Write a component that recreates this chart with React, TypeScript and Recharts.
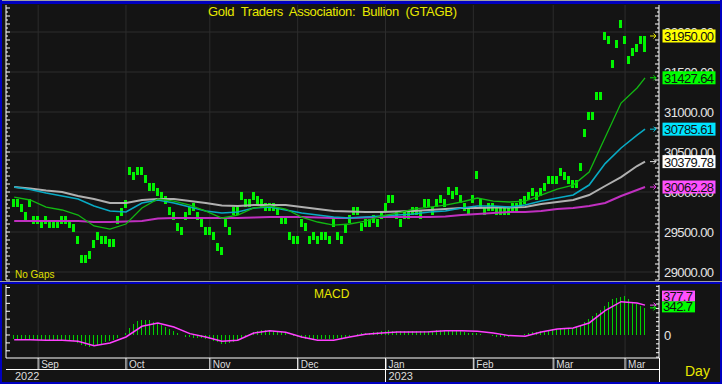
import React from "react";
import { ComposedChart, Bar, Line, XAxis, YAxis, CartesianGrid } from "recharts";

// daily bullion bars (HKD / tael)
const lows = [
  29810, 29810, 29750, 29650, 29810, 29600, 29600, 29550, 29600, 29550,
  29550, 29550, 29600, 29600, 29550, 29500, 29350, 29110, 29110, 29160,
  29300, 29400, 29350, 29350, 29310, 29310, 29600, 29700, 29800, 30210,
  30150, 30210, 30210, 30110, 30010, 30010, 29950, 29900, 29850, 29710,
  29650, 29510, 29460, 29650, 29710, 29760, 29650, 29560, 29460, 29460,
  29400, 29260, 29210, 29560, 29460, 29710, 29710, 29900, 29810, 29810,
  29900, 29850, 29810, 29760, 29760, 29760, 29710, 29600, 29600, 29400,
  29350, 29350, 29560, 29510, 29350, 29400, 29350, 29400, 29400, 29350,
  29560, 29400, 29350, 29490, 29610, 29710, 29710, 29510, 29560, 29560,
  29610, 29560, 29660, 29760, 29860, 29860, 29660, 29560, 29660, 29660,
  29710, 29710, 29660, 29810, 29810, 29710, 29810, 29860, 29810, 29960,
  29910, 29960, 29860, 29760, 29710, 29860, 30160, 29810, 29710, 29760,
  29760, 29710, 29710, 29710, 29710, 29760, 29760, 29810, 29850, 29900,
  29950, 29900, 29950, 30010, 30100, 30100, 30100, 30200, 30150, 30100,
  30050, 30050, 30260, 30690, 30900, 30900, 31150, 31150, 31900, 31850,
  31550, 31800, 32050, 31850, 31600, 31700, 31750, 31850, 31750,
];
const highs = [
  29910, 29910, 29850, 29750, 29910, 29700, 29700, 29650, 29700, 29650,
  29650, 29650, 29700, 29700, 29650, 29600, 29450, 29210, 29210, 29260,
  29400, 29500, 29450, 29450, 29410, 29410, 29700, 29800, 29900, 30310,
  30250, 30310, 30310, 30210, 30110, 30110, 30050, 30000, 29950, 29810,
  29750, 29610, 29560, 29750, 29810, 29860, 29750, 29660, 29560, 29560,
  29500, 29360, 29310, 29660, 29560, 29810, 29810, 30000, 29910, 29910,
  30000, 29950, 29910, 29860, 29860, 29860, 29810, 29700, 29700, 29500,
  29450, 29450, 29660, 29610, 29450, 29500, 29450, 29500, 29500, 29450,
  29660, 29500, 29450, 29590, 29710, 29810, 29810, 29610, 29660, 29660,
  29710, 29660, 29760, 29860, 29960, 29960, 29760, 29660, 29760, 29760,
  29810, 29810, 29760, 29910, 29910, 29810, 29910, 29960, 29910, 30060,
  30010, 30060, 29960, 29860, 29810, 29960, 30260, 29910, 29810, 29860,
  29860, 29810, 29810, 29810, 29810, 29860, 29860, 29910, 29950, 30000,
  30050, 30000, 30050, 30110, 30200, 30200, 30200, 30300, 30250, 30200,
  30150, 30150, 30360, 30790, 31000, 31000, 31250, 31250, 32000, 31950,
  31650, 31900, 32150, 31950, 31700, 31800, 31850, 31950, 31950,
];

// moving averages, sampled every 4th bar
const maIdx = [
  0, 4, 8, 12, 16, 20, 24, 28, 32, 36, 40, 44, 48, 52, 56, 60, 64, 68, 72, 76,
  80, 84, 88, 92, 96, 100, 104, 108, 112, 116, 120, 124, 128, 132, 136, 140,
  144, 148, 152, 156, 158,
];
const maGreen = [
  29937, 29900, 29812, 29775, 29712, 29575, 29537, 29600, 29800, 29912,
  29887, 29837, 29762, 29675, 29712, 29800, 29825, 29787, 29687, 29625,
  29587, 29600, 29637, 29700, 29737, 29787, 29812, 29837, 29875, 29925,
  29887, 29875, 29887, 29962, 30037, 30087, 30250, 30680, 31112, 31300, 31427.64,
];
const maCyan = [
  30062, 30031, 29987, 29950, 29912, 29825, 29762, 29750, 29862, 29900,
  29862, 29812, 29762, 29737, 29750, 29800, 29812, 29775, 29737, 29712,
  29687, 29675, 29687, 29700, 29712, 29725, 29750, 29762, 29800, 29825,
  29825, 29812, 29837, 29887, 29925, 29962, 30087, 30355, 30550, 30712, 30785.61,
];
const maGray = [
  30062, 30044, 30019, 30000, 29950, 29912, 29862, 29862, 29900, 29912,
  29912, 29887, 29862, 29831, 29825, 29837, 29837, 29837, 29812, 29787,
  29762, 29756, 29750, 29750, 29756, 29762, 29775, 29787, 29800, 29800,
  29806, 29806, 29812, 29850, 29875, 29900, 29962, 30075, 30187, 30325, 30379.78,
];
const maPurple = [
  29637, 29637, 29637, 29637, 29637, 29625, 29625, 29631, 29637, 29669,
  29675, 29675, 29675, 29675, 29675, 29681, 29687, 29687, 29687, 29681,
  29675, 29675, 29681, 29687, 29687, 29687, 29687, 29694, 29712, 29725,
  29737, 29750, 29750, 29762, 29787, 29800, 29825, 29862, 29950, 30025, 30062.28,
];

const macdHist = [
  -55, -55, -60, -60, -55, -60, -60, -62, -60, -62,
  -62, -65, -62, -62, -70, -80, -100, -125, -145, -150,
  -140, -125, -110, -95, -80, -60, -35, -5, 30, 85,
  140, 180, 195, 195, 185, 170, 150, 130, 105, 80,
  55, 30, 5, -20, -30, -35, -35, -40, -45, -55,
  -70, -90, -110, -115, -105, -85, -60, -35, -10, 15,
  35, 50, 60, 65, 60, 55, 50, 40, 25, 5,
  -15, -30, -40, -45, -50, -55, -55, -55, -50, -50,
  -45, -40, -35, -25, -15, -5, 10, 20, 25, 30,
  35, 40, 45, 50, 60, 55, 50, 45, 45, 45,
  45, 50, 50, 55, 55, 55, 60, 60, 60, 60,
  55, 50, 45, 40, 30, 25, 25, 15, 5, -5,
  -15, -20, -25, -25, -20, -15, -5, 5, 15, 25,
  35, 40, 45, 55, 65, 75, 80, 85, 90, 90,
  85, 100, 125, 160, 200, 240, 280, 320, 370, 420,
  450, 465, 485, 490, 450, 420, 395, 370, 342.7,
];
const macdSignal = [
  -59, -59, -67, -67, -80, -135, -101, -25, 110, 152,
  101, 17, -25, -80, -67, 25, 55, 34, -25, -67,
  -67, -25, 8, 25, 38, 38, 42, 55, 55, 46,
  25, -8, -17, 38, 76, 88, 152, 307, 421, 404, 377.7,
];

const monthTicks = [6, 28, 49, 71, 93, 115, 135, 153];
const monthLabels = ["Sep", "Oct", "Nov", "Dec", "Jan", "Feb", "Mar", "Mar"];
const yearTick = 93;
const yearLabels = ["2022", "2023"];

const priceLabels = [29000, 29500, 30000, 30500, 31000, 31500, 32000];
const lastPrices = [31950, 31427.64, 30785.61, 30379.78, 30062.28];
const lastMacd = [377.7, 342.7];

const boxColors = ["#ffff00", "#00ff00", "#00e4ff", "#ffffff", "#ff50ff"];
const arrowColors = ["#e8e800", "#00e000", "#00d0e8", "#e0e0e0", "#e040e0"];
const macdBoxColors = ["#ff50ff", "#00ff00"];
const macdShift = [-9, -1];

const PRICE_DOMAIN = [28900, 32337.5];
const MACD_DOMAIN = [-291, 632];
const X_DOMAIN = [-2.05, 161.5];
const FONT = "'Liberation Sans', Arial, sans-serif";

const steps = (from: number, to: number, step: number) => {
  const out: number[] = [];
  for (let v = from; v <= to + 1e-6; v += step) out.push(v);
  return out;
};

const rows: any[] = lows.map((lo, i) => ({ i, range: [lo, highs[i]], macd: macdHist[i] }));
maIdx.forEach((idx, k) => {
  rows[idx].g = maGreen[k];
  rows[idx].c = maCyan[k];
  rows[idx].w = maGray[k];
  rows[idx].m = maPurple[k];
  rows[idx].sig = macdSignal[k];
});

const priceMinor = steps(28900, 32300, 50).filter((v) => !lastPrices.includes(v));
const priceTicks = [...priceMinor, ...lastPrices];
const macdMinor = steps(-280, 616, 56);
const macdTicks = [...macdMinor, ...lastMacd];

const Arrow = ({ x, y, color }: any) => (
  <path d={`M${x - 9},${y}h6 M${x - 5.5},${y - 2.5}l2.5,2.5l-2.5,2.5`} stroke={color} fill="none" strokeWidth={1} />
);

const LeftTick = ({ x, y, payload, step }: any) => (
  <line x1={x} x2={x + (Math.round(payload.value) % step === 0 ? 4 : 2)} y1={y} y2={y} stroke="#fff" />
);

const PriceTick = ({ x, y, payload }: any) => {
  const v = payload.value;
  const k = lastPrices.indexOf(v);
  if (k >= 0) {
    return (
      <g>
        <Arrow x={x} y={y} color={arrowColors[k]} />
        <rect x={x + 3.5} y={y - 6.5} width={53} height={13} fill={boxColors[k]} />
        <text x={x + 5} y={y + 5} fontSize={13} fontFamily={FONT} fill="#111" textLength={50}>
          {v.toFixed(2)}
        </text>
      </g>
    );
  }
  const isLabel = priceLabels.includes(v);
  return (
    <g>
      <line x1={x - (v % 100 === 0 ? 4 : 2)} x2={x} y1={y} y2={y} stroke="#fff" />
      {isLabel && (
        <text x={x + 5} y={y + 5} fontSize={13} fontFamily={FONT} fill="#e6e6e6" textLength={50}>
          {v.toFixed(2)}
        </text>
      )}
    </g>
  );
};

const MacdTick = ({ x, y, payload }: any) => {
  const v = payload.value;
  const k = lastMacd.indexOf(v);
  if (k >= 0) {
    const cy = y + macdShift[k];
    return (
      <g>
        <Arrow x={x} y={y} color={macdBoxColors[k]} />
        <rect x={x + 3} y={cy - 5.5} width={33} height={11} fill={macdBoxColors[k]} />
        <text x={x + 4} y={cy + 4.5} fontSize={13} fontFamily={FONT} fill="#111" textLength={30}>
          {v.toFixed(1)}
        </text>
      </g>
    );
  }
  return (
    <g>
      <line x1={x - 3} x2={x} y1={y} y2={y} stroke="#fff" />
      {v === 0 && (
        <text x={x + 5} y={y + 5} fontSize={13} fontFamily={FONT} fill="#e6e6e6">
          0
        </text>
      )}
    </g>
  );
};

const DateTick = ({ x, y, index }: any) => {
  const isYear = monthTicks[index] === yearTick;
  return (
    <g>
      <line x1={x} x2={x} y1={y} y2={y + (isYear ? 26 : 11)} stroke="#fff" />
      <line x1={x + 1} x2={x + 1} y1={y + 1} y2={y + 11} stroke="#777" />
      <text x={x + 3} y={y + 10} fontSize={10} fontFamily={FONT} fill="#dcdcdc">
        {monthLabels[index]}
      </text>
      {isYear && (
        <text x={x + 3} y={y + 22} fontSize={11} fontFamily={FONT} fill="#dcdcdc">
          {yearLabels[1]}
        </text>
      )}
    </g>
  );
};

const lineProps = { type: "linear" as const, dot: false, activeDot: false, connectNulls: true, isAnimationActive: false };

export default function App() {
  return (
    <div style={{ position: "absolute", left: 0, top: 0, width: 722, height: 384, background: "#141414", overflow: "hidden" }}>
      <div style={{ position: "absolute", left: 0, top: 0 }}>
        <ComposedChart width={722} height={281} data={rows} margin={{ top: 5, right: 0, bottom: 1, left: 0 }}>
          <CartesianGrid yAxisId="p" stroke="#2c2c2c" horizontalValues={priceLabels} verticalValues={monthTicks} />
          <XAxis dataKey="i" type="number" domain={X_DOMAIN} ticks={monthTicks} hide allowDataOverflow />
          <YAxis
            yAxisId="l"
            orientation="left"
            width={6}
            type="number"
            domain={PRICE_DOMAIN}
            allowDataOverflow
            ticks={steps(28900, 32300, 50)}
            interval={0}
            tickSize={0}
            tickMargin={0}
            tickLine={false}
            axisLine={{ stroke: "#fff" }}
            tick={(p: any) => <LeftTick {...p} step={100} />}
          />
          <YAxis
            yAxisId="p"
            orientation="right"
            width={63}
            type="number"
            domain={PRICE_DOMAIN}
            allowDataOverflow
            ticks={priceTicks}
            interval={0}
            tickSize={0}
            tickMargin={0}
            tickLine={false}
            axisLine={{ stroke: "#fff" }}
            tick={PriceTick}
          />
          <Bar yAxisId="p" dataKey="range" barSize={3} fill="#00f400" shapeRendering="crispEdges" isAnimationActive={false} />
          <Line yAxisId="p" dataKey="m" stroke="#c030c0" strokeWidth={2} {...lineProps} />
          <Line yAxisId="p" dataKey="w" stroke="#b0b0b0" strokeWidth={2} {...lineProps} />
          <Line yAxisId="p" dataKey="c" stroke="#08aac4" strokeWidth={1.6} {...lineProps} />
          <Line yAxisId="p" dataKey="g" stroke="#12b812" strokeWidth={1.3} {...lineProps} />
        </ComposedChart>
      </div>
      <div style={{ position: "absolute", left: 0, top: 284 }}>
        <ComposedChart width={722} height={100} data={rows} margin={{ top: 1, right: 0, bottom: 0, left: 0 }}>
          <CartesianGrid yAxisId="m" stroke="#2c2c2c" horizontal={false} verticalValues={monthTicks} />
          <XAxis
            dataKey="i"
            type="number"
            domain={X_DOMAIN}
            allowDataOverflow
            ticks={monthTicks}
            interval={0}
            height={26}
            tickSize={0}
            tickMargin={0}
            tickLine={false}
            axisLine={{ stroke: "#fff" }}
            tick={DateTick}
          />
          <YAxis
            yAxisId="ml"
            orientation="left"
            width={6}
            type="number"
            domain={MACD_DOMAIN}
            allowDataOverflow
            ticks={steps(-200, 600, 100)}
            interval={0}
            tickSize={0}
            tickMargin={0}
            tickLine={false}
            axisLine={{ stroke: "#fff" }}
            tick={(p: any) => <LeftTick {...p} step={1} />}
          />
          <YAxis
            yAxisId="m"
            orientation="right"
            width={63}
            type="number"
            domain={MACD_DOMAIN}
            allowDataOverflow
            ticks={macdTicks}
            interval={0}
            tickSize={0}
            tickMargin={0}
            tickLine={false}
            axisLine={{ stroke: "#fff" }}
            tick={MacdTick}
          />
          <Bar yAxisId="m" dataKey="macd" barSize={1} fill="#00d000" shapeRendering="crispEdges" isAnimationActive={false} />
          <Line yAxisId="m" dataKey="sig" stroke="#ff40ff" strokeWidth={1.5} {...lineProps} />
        </ComposedChart>
      </div>
      <svg width={722} height={384} style={{ position: "absolute", left: 0, top: 0, pointerEvents: "none" }}>
        <rect x={0} y={0} width={722} height={1} fill="#a0a0a0" />
        <rect x={0} y={1} width={722} height={3} fill="#0000c0" />
        <rect x={0} y={0} width={2} height={384} fill="#0000c0" />
        <rect x={720} y={0} width={2} height={384} fill="#0000c0" />
        <rect x={0} y={382} width={722} height={2} fill="#0000c0" />
        <rect x={0} y={281} width={722} height={1} fill="#a0a0a0" />
        <rect x={0} y={282} width={722} height={2} fill="#0000c0" />
        <line x1={6} x2={660} y1={369.5} y2={369.5} stroke="#fff" />
        <line x1={659.5} x2={659.5} y1={358} y2={382} stroke="#fff" />
        <text x={208} y={16} fontSize={13} fontFamily={FONT} fill="#e8e800" textLength={249} lengthAdjust="spacing" style={{ whiteSpace: "pre" }}>
          Gold  Traders  Association:  Bullion  (GTAGB)
        </text>
        <text x={15} y={278} fontSize={10} fontFamily={FONT} fill="#e0e000">
          No Gaps
        </text>
        <text x={314} y={298} fontSize={12} fontFamily={FONT} fill="#e8e800">
          MACD
        </text>
        <text x={15} y={380} fontSize={11} fontFamily={FONT} fill="#dcdcdc">
          {yearLabels[0]}
        </text>
        <text x={685} y={376} fontSize={14} fontFamily={FONT} fill="#e8e800">
          Day
        </text>
      </svg>
    </div>
  );
}
